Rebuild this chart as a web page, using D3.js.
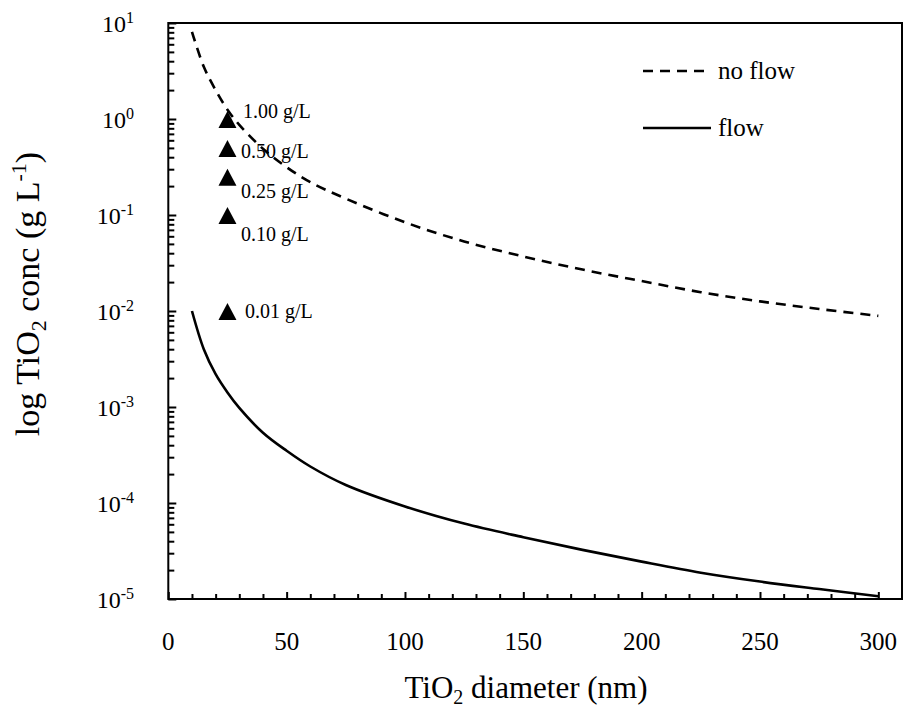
<!DOCTYPE html>
<html>
<head>
<meta charset="utf-8">
<script src="https://cdn.jsdelivr.net/npm/d3@7"></script>
<style>
  html, body { margin: 0; padding: 0; background: #fff; }
  svg { display: block; }
  text { font-family: "Liberation Serif", "Times New Roman", serif; fill: #000; }
</style>
</head>
<body>
<svg id="chart" width="904" height="708"></svg>
<script>
// TiO2 particle diameter (nm)
const diameters = [10, 15, 20, 25, 30, 40, 50, 60, 75, 100, 125, 150, 175, 200, 225, 250, 275, 300];
// concentration without flow (g/L)
const noFlow = [8.1, 3.5, 2.0, 1.25, 0.87, 0.49, 0.315, 0.22, 0.148, 0.084, 0.053, 0.037, 0.027, 0.0205, 0.0157, 0.0126, 0.0105, 0.0089];
// concentration with flow (g/L)
const flow = [0.0100, 0.0040, 0.0022, 0.00142, 0.00098, 0.00054, 0.00035, 0.000240, 0.000154, 0.0000920, 0.0000610, 0.0000440, 0.0000325, 0.0000245, 0.0000188, 0.0000152, 0.0000127, 0.0000107];

// experimental concentrations tested at 25 nm
const markerDiameter = 25;
const markerConc = [1.00, 0.50, 0.25, 0.10, 0.01];
const markerLabels = ["1.00 g/L", "0.50 g/L", "0.25 g/L", "0.10 g/L", "0.01 g/L"];
// label offsets from each marker (px)
const labelDx = [15.5, 13.5, 13.5, 13.5, 17.5];
const labelDy = [-1, 10, 21, 26, 7];

const xTicks = [0, 50, 100, 150, 200, 250, 300];
const yExponents = [-5, -4, -3, -2, -1, 0, 1];
const seriesNames = ["no flow", "flow"];

const svg = d3.select("#chart");
const plotL = 168.3, plotR = 902, plotT = 23, plotB = 599;

const x = d3.scaleLinear().domain([0, 310]).range([plotL, plotR]);
const y = d3.scaleLog().domain([1e-5, 10]).range([plotB, plotT]);

// minor log ticks (2..9 in each decade)
const yMinor = [];
for (let e = -5; e < 1; e++) for (let m = 2; m <= 9; m++) yMinor.push(m * Math.pow(10, e));
const yMajor = yExponents.map(e => Math.pow(10, e));
const xMinor = d3.range(10, 301, 10).filter(v => v % 50 !== 0);

function styleAxis(g) {
  g.select(".domain").remove();
  g.selectAll(".tick line").attr("stroke", "#000").attr("stroke-width", 2);
  g.selectAll(".tick text").remove();
}

svg.append("g").attr("transform", `translate(${plotL},0)`)
  .call(d3.axisRight(y).tickValues(yMajor).tickSize(8).tickFormat(""))
  .call(styleAxis);
svg.append("g").attr("transform", `translate(${plotL},0)`)
  .call(d3.axisRight(y).tickValues(yMinor).tickSize(6).tickFormat(""))
  .call(styleAxis);
svg.append("g").attr("transform", `translate(0,${plotB})`)
  .call(d3.axisTop(x).tickValues(xTicks).tickSize(7).tickFormat(""))
  .call(styleAxis);
svg.append("g").attr("transform", `translate(0,${plotB})`)
  .call(d3.axisTop(x).tickValues(xMinor).tickSize(5).tickFormat(""))
  .call(styleAxis);

// plot frame
svg.append("rect")
  .attr("x", plotL).attr("y", plotT)
  .attr("width", plotR - plotL).attr("height", plotB - plotT)
  .attr("fill", "none").attr("stroke", "#000").attr("stroke-width", 2);

// x tick labels
svg.append("g").selectAll("text").data(xTicks).join("text")
  .attr("x", d => x(d)).attr("y", 650)
  .attr("text-anchor", "middle").attr("font-size", 25)
  .text(d => d);

// y tick labels: 10 with superscript exponent
const yl = svg.append("g").selectAll("text").data(yExponents).join("text")
  .attr("x", 134).attr("y", d => y(Math.pow(10, d)) + 9)
  .attr("text-anchor", "end").attr("font-size", 24);
yl.append("tspan").text("10");
yl.append("tspan").attr("font-size", 16).attr("dy", -9).text(d => d);

// axis titles
const xt = svg.append("text").attr("x", 526).attr("y", 698)
  .attr("text-anchor", "middle").attr("font-size", 31);
xt.append("tspan").text("TiO");
xt.append("tspan").attr("font-size", 20).attr("dy", 6).text("2");
xt.append("tspan").attr("dy", -6).text(" diameter (nm)");

const yt = svg.append("text").attr("transform", "translate(39,294) rotate(-90)")
  .attr("text-anchor", "middle").attr("font-size", 34);
yt.append("tspan").text("log TiO");
yt.append("tspan").attr("font-size", 22).attr("dy", 7).text("2");
yt.append("tspan").attr("dy", -7).text(" conc (g L");
yt.append("tspan").attr("font-size", 22).attr("dy", -13).text("-1");
yt.append("tspan").attr("dy", 13).text(")");

// curves
const line = d3.line().x(d => x(d[0])).y(d => y(d[1])).curve(d3.curveCatmullRom.alpha(0.5));
svg.append("path")
  .datum(diameters.map((d, i) => [d, noFlow[i]]))
  .attr("d", line).attr("fill", "none").attr("stroke", "#000")
  .attr("stroke-width", 2.6).attr("stroke-dasharray", "10,7");
svg.append("path")
  .datum(diameters.map((d, i) => [d, flow[i]]))
  .attr("d", line).attr("fill", "none").attr("stroke", "#000")
  .attr("stroke-width", 2.6);

// markers
const tri = svg.append("g");
markerConc.forEach((c, i) => {
  const cx = x(markerDiameter), cy = y(c);
  tri.append("path")
    .attr("d", `M${cx},${cy - 8}L${cx + 9},${cy + 9}L${cx - 9},${cy + 9}Z`)
    .attr("fill", "#000");
  tri.append("text")
    .attr("x", cx + labelDx[i]).attr("y", cy + labelDy[i])
    .attr("font-size", 20).text(markerLabels[i]);
});

// legend
const legend = svg.append("g");
seriesNames.forEach((name, i) => {
  const ly = 71 + i * 57;
  legend.append("line")
    .attr("x1", 643).attr("x2", i === 0 ? 705 : 711)
    .attr("y1", ly).attr("y2", ly)
    .attr("stroke", "#000").attr("stroke-width", 2.6)
    .attr("stroke-dasharray", i === 0 ? "10,7" : null);
  legend.append("text").attr("x", 718).attr("y", ly + 8)
    .attr("font-size", 25).text(name);
});
</script>
</body>
</html>
